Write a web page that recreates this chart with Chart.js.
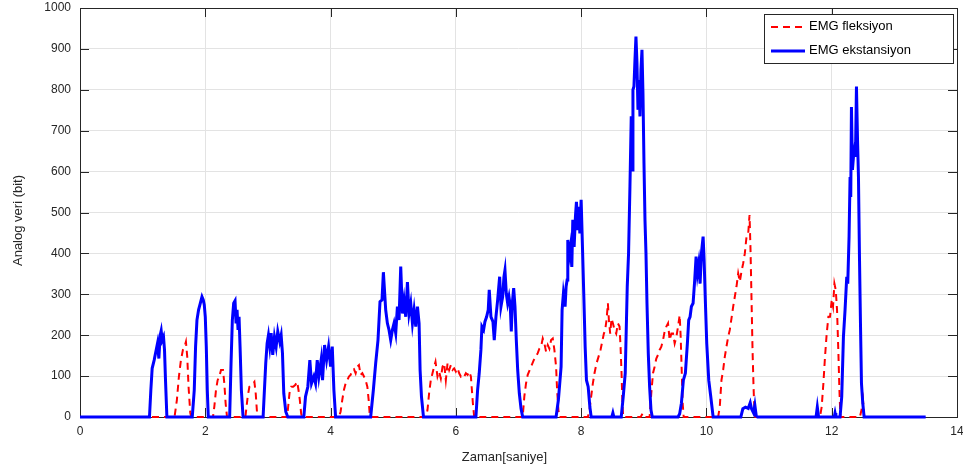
<!DOCTYPE html>
<html>
<head>
<meta charset="utf-8">
<script src="https://cdn.jsdelivr.net/npm/chart.js@4.4.0/dist/chart.umd.min.js"></script>
<style>
  html, body { margin: 0; padding: 0; background: #fff; }
  #wrap { width: 963px; height: 476px; }
</style>
</head>
<body>
<div id="wrap"><canvas id="emgChart" width="963" height="476"></canvas></div>
<script>
const seriesNames = ['EMG fleksiyon', 'EMG ekstansiyon'];
const xTicks = [0, 2, 4, 6, 8, 10, 12, 14];
const yTicks = [0, 100, 200, 300, 400, 500, 600, 700, 800, 900, 1000];
const xTitle = 'Zaman[saniye]';
const yTitle = 'Analog veri (bit)';

// EMG fleksiyon (red dashed) - time [s] and value [bit]
const flexTime = [
  0, 1.509, 1.547, 1.579, 1.611, 1.643, 1.669, 1.691, 1.712, 1.733, 1.76, 1.776,
  2.123, 2.144, 2.171, 2.197, 2.224, 2.251, 2.283, 2.304, 2.325, 2.347,
  2.64, 2.656, 2.677, 2.704, 2.731, 2.763, 2.784, 2.805, 2.827, 2.843,
  3.307, 3.323, 3.344, 3.371, 3.403, 3.435, 3.467, 3.488, 3.509, 3.531, 3.547,
  4.133, 4.16, 4.187, 4.213, 4.24, 4.267, 4.293, 4.32, 4.347, 4.373, 4.4, 4.427, 4.453, 4.48, 4.507, 4.533, 4.56, 4.587, 4.608, 4.624, 4.64,
  5.52, 5.547, 5.573, 5.6, 5.627, 5.653, 5.675, 5.707, 5.733, 5.76, 5.787, 5.813, 5.84, 5.867, 5.893, 5.92, 5.947, 5.973, 6.0, 6.027, 6.053, 6.08, 6.107, 6.133, 6.16, 6.187, 6.213, 6.24, 6.256, 6.272, 6.293,
  7.067, 7.093, 7.12, 7.147, 7.179, 7.211, 7.243, 7.275, 7.307, 7.333, 7.36, 7.387, 7.413, 7.44, 7.467, 7.493, 7.52, 7.547, 7.573, 7.6, 7.616, 7.637, 7.653,
  8.107, 8.133, 8.16, 8.187, 8.213, 8.245, 8.277, 8.309, 8.336, 8.363, 8.384, 8.405, 8.427, 8.443, 8.464, 8.485, 8.507, 8.533, 8.56, 8.587, 8.613, 8.629, 8.645, 8.661, 8.672,
  8.95, 8.98, 9.01,
  9.093, 9.12, 9.147, 9.173, 9.2, 9.227, 9.253, 9.28, 9.307, 9.333, 9.36, 9.387, 9.413, 9.44, 9.467, 9.493, 9.52, 9.547, 9.573, 9.589, 9.605, 9.621, 9.637,
  10.187, 10.213, 10.24, 10.267, 10.293, 10.32, 10.347, 10.373, 10.4, 10.427, 10.453, 10.48, 10.507, 10.533, 10.56, 10.587, 10.613, 10.64, 10.667, 10.688, 10.704, 10.72, 10.736, 10.752, 10.768, 10.779,
  11.813, 11.84, 11.867, 11.893, 11.92, 11.947, 11.973, 12.0, 12.021, 12.043, 12.064, 12.085, 12.107, 12.123, 12.139,
  12.45, 12.48, 12.5, 12.52, 13.5
];
const flexValue = [
  0, 0, 42, 99, 139, 164, 172, 184, 147, 74, 10, 0,
  0, 25, 66, 90, 99, 115, 115, 82, 33, 0,
  0, 21, 50, 74, 78, 82, 86, 58, 8, 0,
  0, 25, 58, 74, 74, 78, 86, 66, 42, 8, 0,
  0, 13, 42, 66, 82, 90, 99, 103, 115, 117, 107, 123, 127, 103, 107, 99, 90, 74, 42, 8, 0,
  0, 17, 58, 90, 107, 123, 135, 99, 111, 94, 123, 131, 90, 131, 115, 127, 115, 119, 111, 119, 107, 99, 103, 99, 107, 103, 111, 99, 66, 33, 0,
  0, 50, 82, 103, 115, 127, 139, 147, 156, 167, 172, 192, 180, 160, 176, 167, 188, 192, 164, 123, 66, 17, 0,
  0, 17, 50, 82, 107, 131, 147, 164, 184, 204, 213, 237, 278, 237, 204, 241, 229, 213, 204, 229, 221, 172, 107, 25, 0,
  0, 8, 0,
  0, 58, 107, 123, 143, 152, 164, 172, 188, 209, 221, 229, 188, 204, 204, 180, 196, 221, 249, 196, 115, 33, 0,
  0, 25, 90, 115, 147, 172, 196, 213, 241, 270, 294, 319, 351, 331, 356, 376, 400, 441, 449, 494, 408, 286, 164, 74, 8, 0,
  0, 25, 82, 147, 204, 245, 245, 286, 270, 326, 311, 262, 155, 66, 0,
  0, 20, 40, 0, 0
];

// EMG ekstansiyon (blue solid) - time [s] and value [bit]
const extTime = [
  0, 1.109, 1.131, 1.152, 1.184, 1.216, 1.237, 1.259, 1.28, 1.296, 1.312, 1.333, 1.349, 1.365, 1.387,
  1.792, 1.824, 1.845, 1.867, 1.893, 1.92, 1.947, 1.968, 1.984, 2.0, 2.016, 2.032, 2.048,
  2.389, 2.411, 2.432, 2.453, 2.475, 2.491, 2.507, 2.523, 2.539, 2.555, 2.576, 2.603,
  2.923, 2.944, 2.965, 2.987, 3.008, 3.029, 3.051, 3.077, 3.104, 3.131, 3.157, 3.189, 3.211, 3.232, 3.253, 3.285, 3.317,
  3.573, 3.6, 3.637, 3.669, 3.696, 3.733, 3.76, 3.787, 3.813, 3.851, 3.872, 3.904, 3.936, 3.968, 4.0, 4.027, 4.053, 4.08,
  4.64, 4.683, 4.72, 4.757, 4.789, 4.821, 4.843, 4.88, 4.907, 4.933, 4.96, 4.987, 5.013, 5.04, 5.067, 5.093, 5.12, 5.147, 5.173, 5.2, 5.227, 5.253, 5.28, 5.307, 5.333, 5.36, 5.387, 5.413, 5.429, 5.451, 5.483,
  6.32, 6.347, 6.373, 6.4, 6.416, 6.443, 6.464, 6.491, 6.517, 6.533, 6.56, 6.592, 6.613, 6.64, 6.667, 6.699, 6.72, 6.747, 6.768, 6.784, 6.805, 6.827, 6.848, 6.869, 6.885, 6.901, 6.923, 6.944, 6.965, 6.987, 7.013, 7.04, 7.067,
  7.6, 7.637, 7.68, 7.696, 7.717, 7.744, 7.76, 7.776, 7.787, 7.808, 7.829, 7.851, 7.867, 7.888, 7.909, 7.925, 7.947, 7.963, 7.979, 8.0, 8.021, 8.043, 8.064, 8.085, 8.112, 8.139, 8.16,
  8.49, 8.507, 8.523,
  8.64, 8.672, 8.704, 8.736, 8.757, 8.779, 8.8, 8.816, 8.827, 8.843, 8.859, 8.875, 8.891, 8.907, 8.923, 8.939, 8.955, 8.971, 8.987, 9.003, 9.019, 9.035, 9.051, 9.072, 9.093, 9.115, 9.136,
  9.547, 9.573, 9.6, 9.632, 9.664, 9.696, 9.717, 9.739, 9.76, 9.787, 9.813, 9.835, 9.856, 9.877, 9.899, 9.92, 9.947, 9.963, 9.984, 10.005, 10.037, 10.069, 10.107,
  10.549, 10.581, 10.624, 10.667, 10.699, 10.72, 10.752, 10.773, 10.795, 10.816,
  11.75, 11.77, 11.79,
  12.04, 12.053, 12.066,
  12.133, 12.16, 12.187, 12.213, 12.24, 12.256, 12.277, 12.293, 12.304, 12.315, 12.331, 12.347, 12.363, 12.379, 12.395, 12.411, 12.427, 12.443, 12.459, 12.475, 12.496, 12.517,
  13.5
];
const extValue = [
  0, 0, 66, 119, 139, 164, 180, 143, 200, 211, 188, 196, 164, 90, 0,
  0, 66, 172, 237, 262, 278, 294, 286, 274, 245, 172, 66, 0,
  0, 131, 237, 278, 284, 229, 262, 213, 245, 172, 66, 0,
  0, 66, 131, 180, 200, 172, 205, 152, 196, 172, 209, 184, 200, 156, 58, 13, 0,
  0, 50, 74, 139, 82, 99, 82, 139, 99, 141, 90, 176, 139, 172, 123, 172, 66, 0,
  0, 66, 131, 188, 282, 286, 354, 262, 229, 213, 188, 213, 229, 205, 270, 237, 368, 253, 286, 245, 330, 253, 278, 229, 262, 221, 270, 229, 115, 50, 0,
  0, 66, 107, 164, 221, 213, 233, 245, 262, 311, 245, 233, 188, 245, 286, 343, 270, 294, 343, 359, 302, 278, 294, 270, 209, 278, 315, 270, 188, 115, 58, 21, 0,
  0, 42, 123, 262, 302, 270, 319, 335, 433, 392, 416, 367, 482, 416, 490, 526, 457, 514, 449, 531, 416, 294, 172, 90, 74, 25, 0,
  0, 10, 0,
  0, 50, 107, 319, 400, 563, 735, 604, 800, 808, 873, 930, 866, 751, 824, 735, 849, 898, 791, 621, 482, 400, 278, 155, 74, 17, 0,
  0, 8, 33, 90, 107, 180, 237, 245, 270, 278, 335, 392, 351, 375, 326, 400, 441, 384, 278, 180, 90, 50, 0,
  0, 20, 24, 21, 35, 20, 10, 29, 3, 0,
  0, 24, 0,
  0, 10, 0,
  0, 50, 196, 262, 343, 326, 441, 587, 538, 758, 604, 636, 653, 636, 808, 685, 587, 392, 229, 82, 33, 0,
  0
];

const axisColor = '#262626';
const gridColor = '#e3e3e3';
const fontFamily = '"Liberation Sans", Arial, Helvetica, sans-serif';

Chart.defaults.font.family = fontFamily;
Chart.defaults.color = axisColor;

const toPoints = (xs, ys) => xs.map((t, i) => ({ x: t, y: ys[i] }));

// MATLAB style box, inward ticks, axis labels and legend
const matlabAxes = {
  id: 'matlabAxes',
  beforeDatasetsDraw(chart) {
    const { ctx, chartArea: a, scales: { x, y } } = chart;
    ctx.save();
    ctx.strokeStyle = axisColor;
    ctx.lineWidth = 1;
    ctx.beginPath();
    xTicks.forEach(v => {
      const px = Math.round(x.getPixelForValue(v)) + 0.5;
      ctx.moveTo(px, a.bottom); ctx.lineTo(px, a.bottom - 9);
      ctx.moveTo(px, a.top); ctx.lineTo(px, a.top + 9);
    });
    yTicks.forEach(v => {
      const py = Math.round(y.getPixelForValue(v)) + 0.5;
      ctx.moveTo(a.left, py); ctx.lineTo(a.left + 9, py);
      ctx.moveTo(a.right, py); ctx.lineTo(a.right - 9, py);
    });
    ctx.stroke();
    ctx.strokeRect(Math.round(a.left) + 0.5, Math.round(a.top) + 0.5,
      Math.round(a.right - a.left), Math.round(a.bottom - a.top));

    // axis titles (placed like the original, a bit off-centre)
    ctx.fillStyle = axisColor;
    ctx.font = '13px ' + fontFamily;
    ctx.textAlign = 'center';
    ctx.textBaseline = 'middle';
    ctx.fillText(xTitle, (a.left + a.right) / 2 - 14, a.bottom + 40);
    ctx.translate(18, (a.top + a.bottom) / 2 + 8);
    ctx.rotate(-Math.PI / 2);
    ctx.fillText(yTitle, 0, 0);
    ctx.restore();
  },
  afterDraw(chart) {
    const { ctx, chartArea: a } = chart;
    const w = 189, h = 49;
    const bx = Math.round(a.right) - 4 - w, by = Math.round(a.top) + 6;
    ctx.save();
    ctx.fillStyle = '#fff';
    ctx.fillRect(bx, by, w, h);
    ctx.strokeStyle = axisColor;
    ctx.lineWidth = 1;
    ctx.strokeRect(bx + 0.5, by + 0.5, w, h);
    ctx.font = '13px ' + fontFamily;
    ctx.textBaseline = 'middle';
    ctx.fillStyle = '#000';
    chart.data.datasets.forEach((ds, i) => {
      const ry = by + 12 + i * 24;
      ctx.beginPath();
      ctx.strokeStyle = ds.borderColor;
      ctx.lineWidth = ds.borderWidth;
      ctx.setLineDash(ds.borderDash || []);
      ctx.moveTo(bx + 7, ry + 1);
      ctx.lineTo(bx + 41, ry + 1);
      ctx.stroke();
      ctx.setLineDash([]);
      ctx.fillText(ds.label, bx + 45, ry);
    });
    ctx.restore();
  }
};

new Chart(document.getElementById('emgChart'), {
  type: 'line',
  data: {
    datasets: [
      {
        label: seriesNames[0],
        data: toPoints(flexTime, flexValue),
        borderColor: '#ff0000',
        borderWidth: 2,
        borderDash: [7, 5],
        pointRadius: 0,
        tension: 0,
        clip: false,
        order: 1
      },
      {
        label: seriesNames[1],
        data: toPoints(extTime, extValue),
        borderColor: '#0000ff',
        borderWidth: 3,
        pointRadius: 0,
        tension: 0,
        clip: false,
        order: 0
      }
    ]
  },
  options: {
    responsive: false,
    animation: false,
    layout: { padding: { top: 8, right: 6, left: 0, bottom: 0 } },
    plugins: { legend: { display: false }, tooltip: { enabled: false } },
    scales: {
      x: {
        type: 'linear',
        min: 0,
        max: 14,
        afterBuildTicks: s => { s.ticks = xTicks.map(v => ({ value: v })); },
        afterFit: s => { s.height = 59; s.paddingLeft = 0; s.paddingRight = 0; },
        ticks: { padding: 7, font: { size: 12 }, color: axisColor, maxRotation: 0, callback: v => String(v) },
        grid: { color: gridColor, drawTicks: false },
        border: { display: false }
      },
      y: {
        min: 0,
        max: 1000,
        afterBuildTicks: s => { s.ticks = yTicks.map(v => ({ value: v })); },
        afterFit: s => { s.width = 80; s.paddingTop = 0; s.paddingBottom = 0; },
        ticks: { padding: 9, font: { size: 12 }, color: axisColor, callback: v => String(v) },
        grid: { color: gridColor, drawTicks: false },
        border: { display: false }
      }
    }
  },
  plugins: [matlabAxes]
});
</script>
</body>
</html>
